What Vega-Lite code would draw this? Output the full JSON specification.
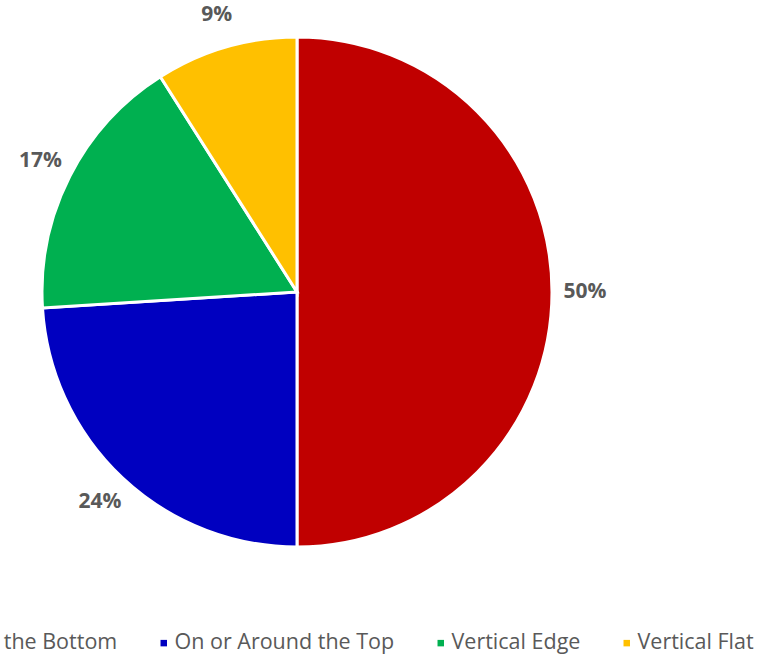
{
  "$schema": "https://vega.github.io/schema/vega-lite/v6.json",
  "width": 594,
  "height": 584,
  "autosize": {"type": "none"},
  "padding": {"left": 0, "top": 0, "right": 172, "bottom": 71},
  "background": "white",
  "config": {"view": {"stroke": null}},
  "data": {
    "values": [
      {"category": "On or Around the Bottom", "value": 50, "label": "50%", "order": 1},
      {"category": "On or Around the Top", "value": 24, "label": "24%", "order": 2},
      {"category": "Vertical Edge", "value": 17, "label": "17%", "order": 3},
      {"category": "Vertical Flat", "value": 9, "label": "9%", "order": 4}
    ]
  },
  "encoding": {
    "theta": {"field": "value", "type": "quantitative", "stack": true},
    "order": {"field": "order", "type": "quantitative"}
  },
  "layer": [
    {
      "mark": {"type": "arc", "outerRadius": 255, "stroke": "white", "strokeWidth": 3},
      "encoding": {
        "color": {
          "field": "category",
          "type": "nominal",
          "scale": {
            "domain": ["On or Around the Bottom", "On or Around the Top", "Vertical Edge", "Vertical Flat"],
            "range": ["#C00000", "#0000C0", "#00B050", "#FFC000"]
          },
          "legend": {
            "title": null,
            "orient": "none",
            "direction": "horizontal",
            "columns": 4,
            "legendX": -161,
            "legendY": 632,
            "symbolType": "square",
            "symbolSize": 42,
            "symbolStrokeWidth": 0,
            "labelFont": "Open Sans",
            "labelFontSize": 21.5,
            "labelColor": "#595959",
            "labelOffset": 0,
            "columnPadding": 35,
            "labelLimit": 400
          }
        }
      }
    },
    {
      "mark": {"type": "text", "radius": 288, "font": "Open Sans", "fontSize": 21, "fontWeight": "bold", "fill": "#595959"},
      "encoding": {
        "text": {"field": "label", "type": "nominal"}
      }
    }
  ]
}
